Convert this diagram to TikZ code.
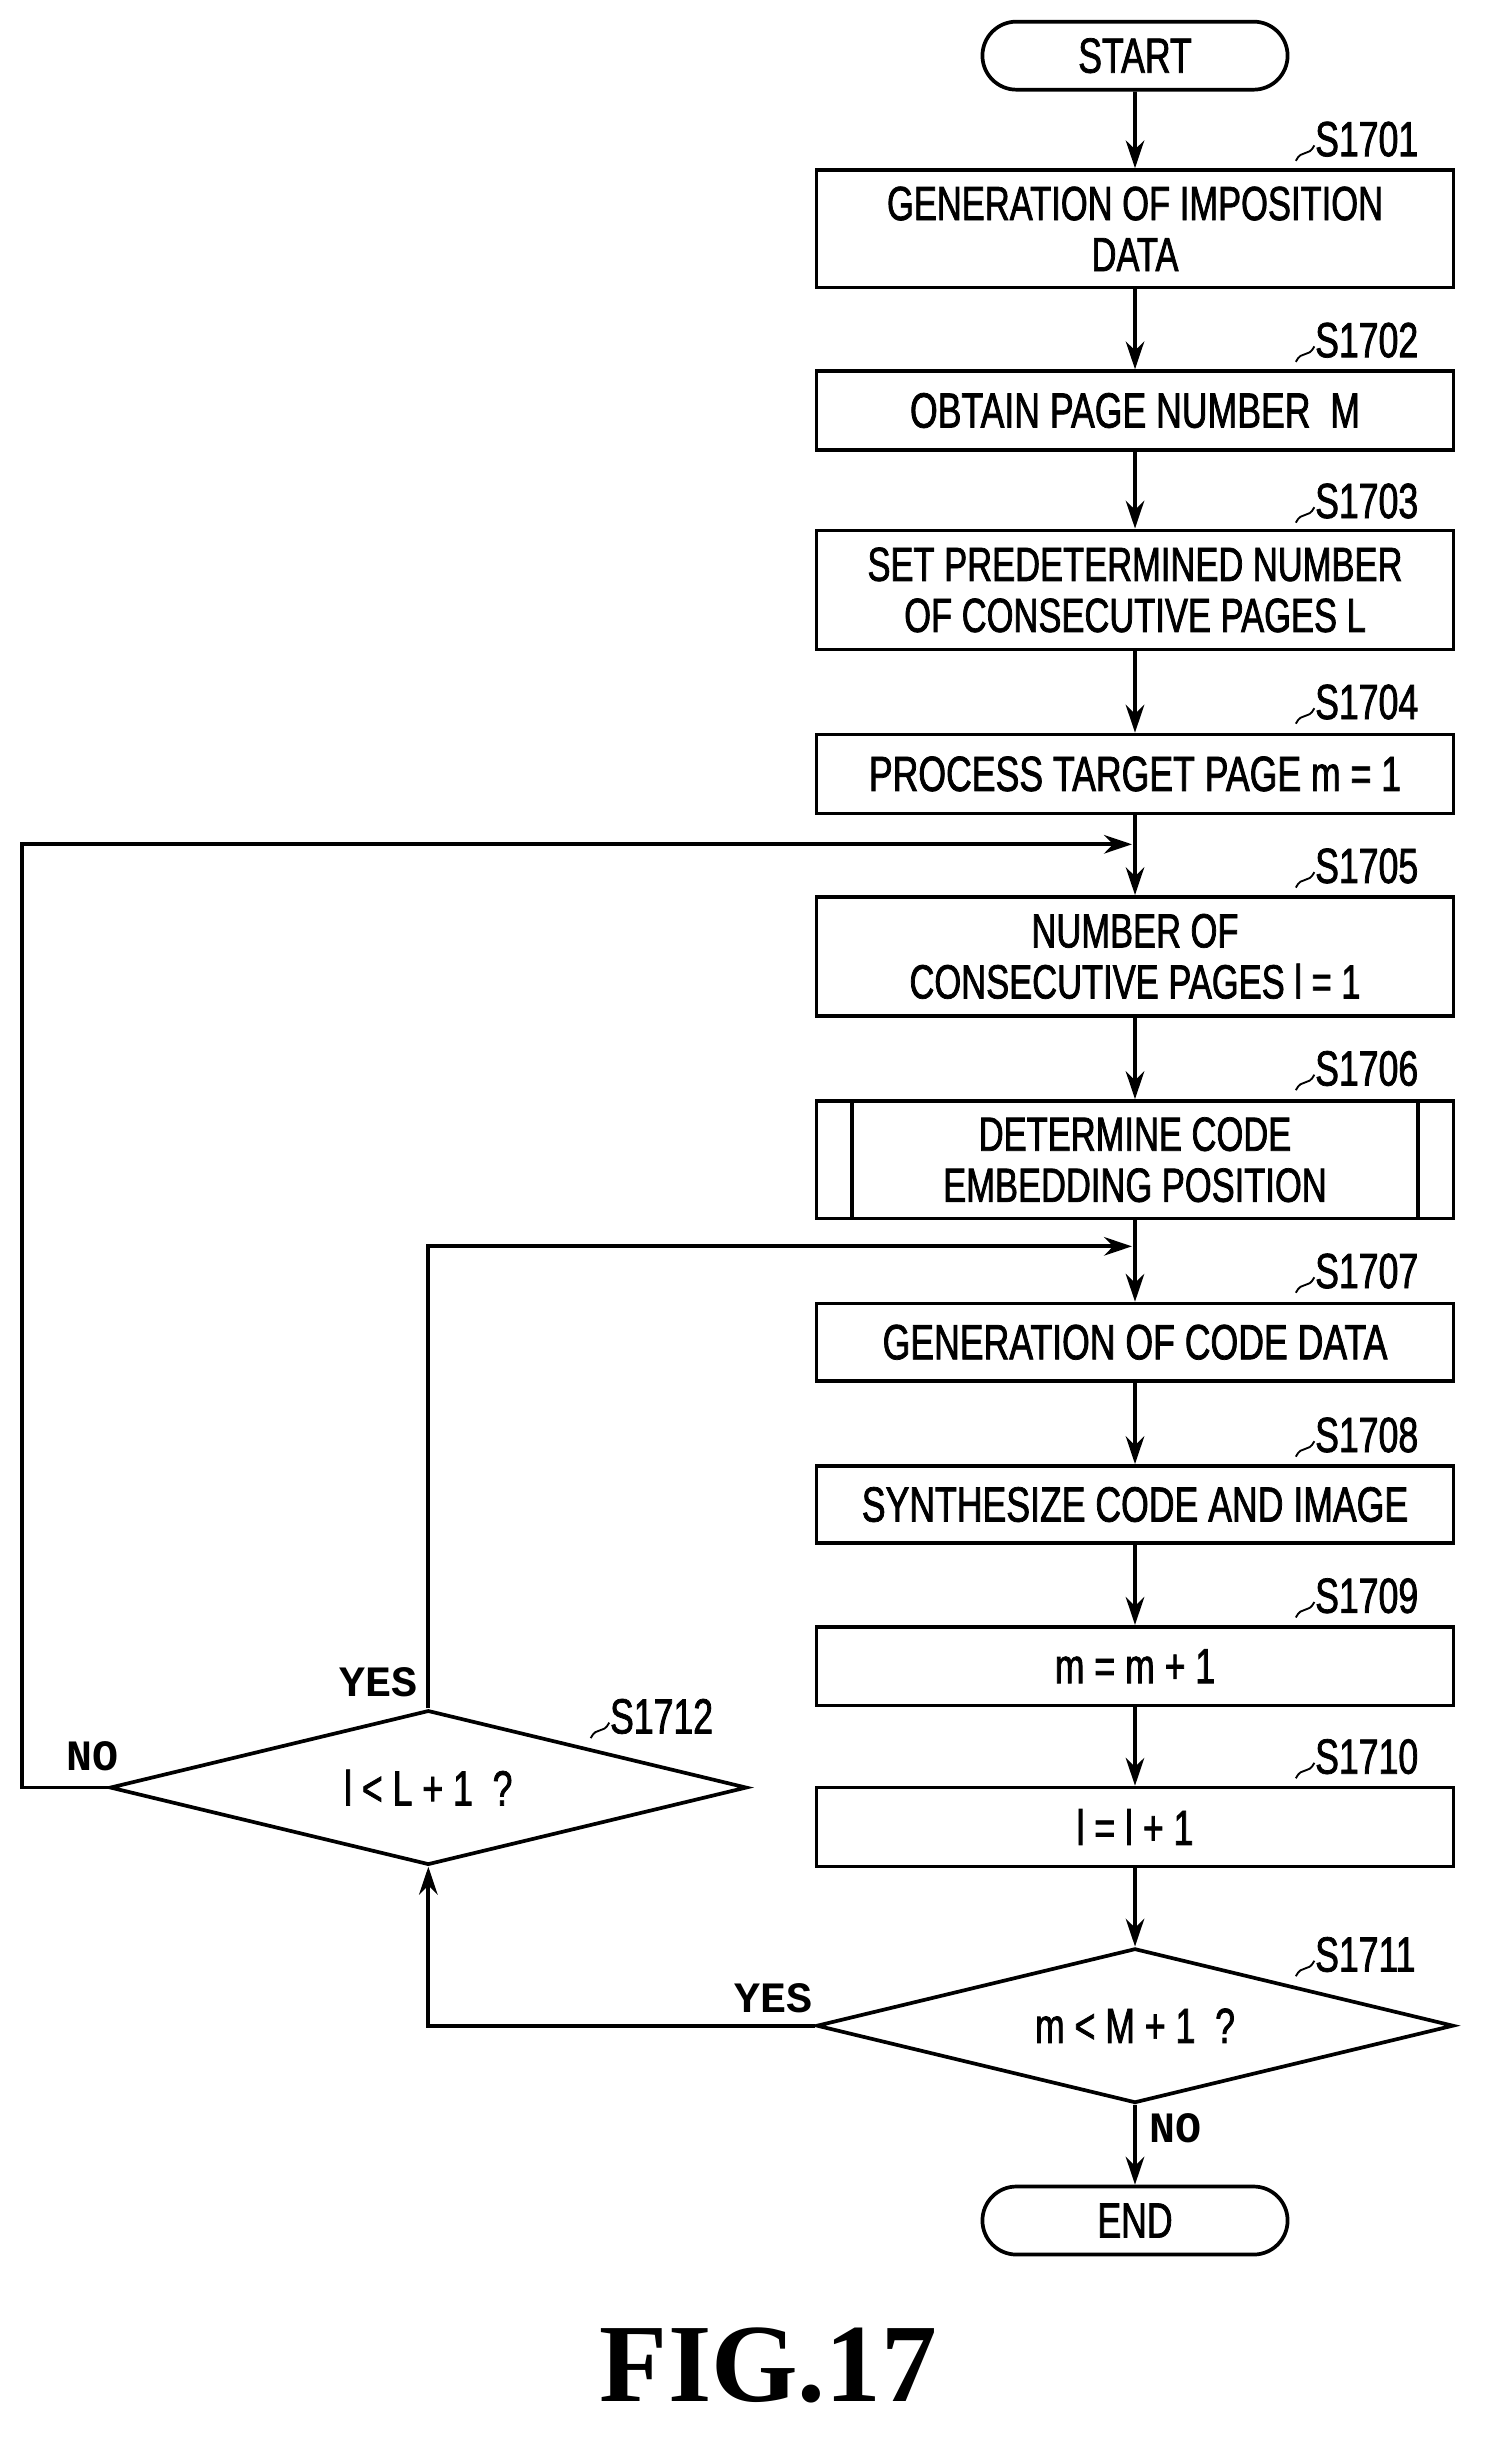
\documentclass[tikz,border=0pt]{standalone}
\usepackage{fontspec}
\setmainfont{Liberation Sans}[FakeStretch=0.72,FakeBold=1.5]
\newfontfamily\monof{Liberation Mono}
\newfontfamily\figf{Liberation Serif}
\usetikzlibrary{shapes.geometric,shapes.misc,arrows.meta}
\begin{document}
\begin{tikzpicture}[x=1pt,y=-1pt,line width=2.4pt,
  box/.style={draw,minimum width=412pt,inner sep=0pt,align=center,font=\fontsize{31}{33}\selectfont},
  term/.style={draw,rounded rectangle,minimum width=204pt,minimum height=44pt,font=\fontsize{32}{33}\selectfont},
  dia/.style={draw,diamond,aspect=4.12,minimum width=412pt,minimum height=100pt,inner sep=0pt,font=\fontsize{32}{33}\selectfont},
  arr/.style={-{Stealth[length=18pt,width=12pt]}},
  lab/.style={font=\fontsize{32}{32}\selectfont,anchor=west},
  yn/.style={font=\monof\bfseries\fontsize{28}{28}\selectfont}]
\useasboundingbox (0,0) rectangle (960,1576);
\node[term] (start) at (734,36) {START};
\node[box,minimum height=76pt] (s1) at (734,148) {GENERATION OF IMPOSITION\\DATA};
\node[box,minimum height=51pt,font=\fontsize{32}{33}\selectfont] (s2) at (734,265.5) {OBTAIN PAGE NUMBER\ \ M};
\node[box,minimum height=77pt] (s3) at (734,381.5) {SET PREDETERMINED NUMBER\\OF CONSECUTIVE PAGES L};
\node[box,minimum height=51pt,font=\fontsize{32}{33}\selectfont] (s4) at (734,500.5) {PROCESS TARGET PAGE m = 1};
\node[box,minimum height=77pt] (s5) at (734,618.5) {NUMBER OF\\CONSECUTIVE PAGES l = 1};
\node[box,minimum height=76pt] (s6) at (734,750) {DETERMINE CODE\\EMBEDDING POSITION};
\draw ([xshift=24pt]s6.north west) -- ([xshift=24pt]s6.south west);
\draw ([xshift=-24pt]s6.north east) -- ([xshift=-24pt]s6.south east);
\node[box,minimum height=50pt,font=\fontsize{32}{33}\selectfont] (s7) at (734,868) {GENERATION OF CODE DATA};
\node[box,minimum height=50pt,font=\fontsize{32}{33}\selectfont] (s8) at (734,973) {SYNTHESIZE CODE AND IMAGE};
\node[box,minimum height=51pt,font=\fontsize{32}{33}\selectfont] (s9) at (734,1077.5) {m = m + 1};
\node[box,minimum height=51pt,font=\fontsize{32}{33}\selectfont] (s10) at (734,1181.5) {l = l + 1};
\node[dia] (s11) at (734,1310) {m < M + 1\ \ ?};
\node[term] (end) at (734,1436) {END};
\node[dia] (s12) at (277,1156) {l < L + 1\ \ ?};
\foreach \n/\t/\y in {s1/S1701/90,s2/S1702/220,s3/S1703/324,s4/S1704/454,s5/S1705/560,s6/S1706/691,s7/S1707/822,s8/S1708/928,s9/S1709/1032,s10/S1710/1136,s11/S1711/1264}{
  \node[lab] (l\n) at (846,\y) {\t};
  \draw[line width=1.2pt] (838,\y+14) .. controls (842,\y+6) and (846,\y+12) .. (850,\y+4);
}
\node[lab] (ls12) at (390,1110) {S1712};
\draw[line width=1.2pt] (382,1124) .. controls (386,1116) and (390,1122) .. (394,1114);
\coordinate (j1) at (734,546);
\coordinate (j2) at (734,806);
\draw[arr] (start) -- (s1);
\draw[arr] (s1) -- (s2);
\draw[arr] (s2) -- (s3);
\draw[arr] (s3) -- (s4);
\draw[arr] (s4) -- (s5);
\draw[arr] (s5) -- (s6);
\draw[arr] (s6) -- (s7);
\draw[arr] (s7) -- (s8);
\draw[arr] (s8) -- (s9);
\draw[arr] (s9) -- (s10);
\draw[arr] (s10) -- (s11);
\draw[arr] (s11) -- (end);
\draw[arr] (s11.west) -- (277,1310) -- (s12.south);
\draw[arr] (s12.west) -- (14,1156) -- (14,546) -- ([xshift=-2pt]j1);
\draw[arr] (s12.north) -- (277,806) -- ([xshift=-2pt]j2);
\node[yn] (yes1) at (245,1088) {YES};
\node[yn] (no1) at (60,1136) {NO};
\node[yn] (yes2) at (500,1292) {YES};
\node[yn] (no2) at (760,1376) {NO};
\node[font=\figf\bfseries\fontsize{72}{72}\selectfont] (fig) at (497,1530) {FIG.17};
\end{tikzpicture}
\end{document}
